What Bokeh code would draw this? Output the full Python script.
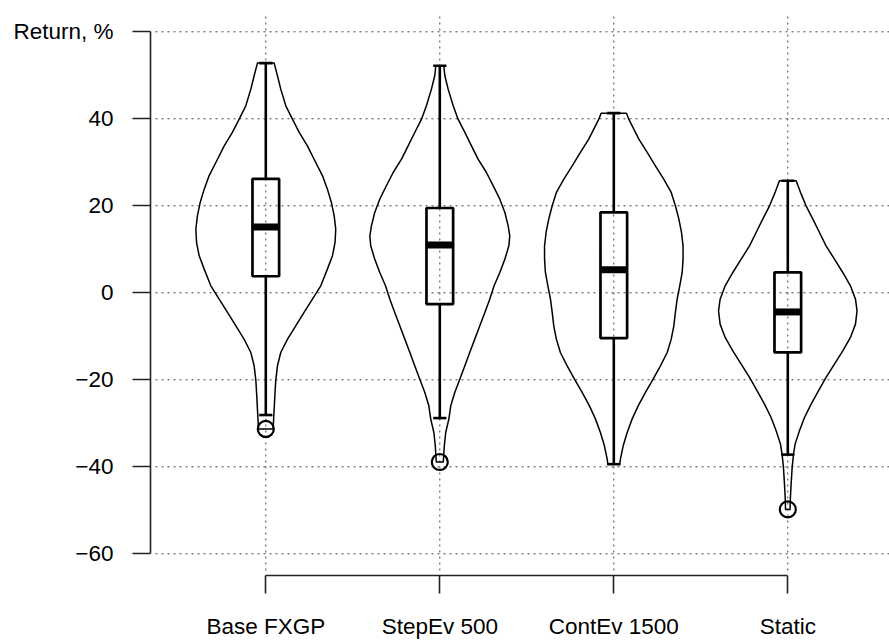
from bokeh.plotting import figure
from bokeh.models import Range1d, FixedTicker, ColumnDataSource
from bokeh.embed import file_html
from bokeh.resources import INLINE

# ---------------- data ----------------
categories = ["Base FXGP", "StepEv 500", "ContEv 1500", "Static"]
positions = [1, 2, 3, 4]

upper_whisker = [52.8, 52.2, 41.3, 25.75]
q3 = [26.2, 19.5, 18.5, 4.7]
median = [15.1, 11.0, 5.3, -4.4]
q1 = [3.8, -2.6, -10.4, -13.7]
lower_whisker = [-28.1, -28.8, -39.4, -37.2]

outlier_pos = [1, 2, 4]
outlier_val = [-31.3, -38.9, -49.8]

# violin profiles: return value (%) and half-width (in category units)
violin1_y = [52.8, 49.89, 46.82, 42.99, 39.92, 36.86, 33.79, 29.96, 26.90, 23.83,
             20.77, 17.70, 14.64, 11.57, 8.51, 5.44, 1.61, -1.46, -4.52, -7.59,
             -10.65, -13.72, -16.78, -20.23, -23.68, -26.74, -29.81, -31.3]
violin1_w = [0.048, 0.067, 0.086, 0.115, 0.153, 0.192, 0.239, 0.287, 0.326, 0.354,
             0.377, 0.393, 0.402, 0.398, 0.383, 0.354, 0.316, 0.268, 0.220, 0.172,
             0.125, 0.086, 0.067, 0.057, 0.052, 0.048, 0.044, 0.043]

violin2_y = [52.2, 49.89, 46.82, 42.99, 39.92, 36.86, 33.79, 30.73, 27.66, 24.60,
             21.53, 18.47, 15.40, 13.10, 10.80, 7.74, 4.67, 1.61, -1.46, -4.52,
             -7.59, -10.65, -13.72, -16.78, -19.85, -22.91, -25.98, -29.04, -32.11,
             -35.17, -38.9]
violin2_w = [0.023, 0.029, 0.048, 0.077, 0.105, 0.144, 0.182, 0.220, 0.268, 0.307,
             0.345, 0.374, 0.393, 0.402, 0.397, 0.374, 0.345, 0.312, 0.287, 0.259,
             0.230, 0.201, 0.172, 0.144, 0.115, 0.086, 0.063, 0.052, 0.034,
             0.026, 0.020]

violin3_y = [41.3, 39.92, 37.63, 35.33, 32.26, 29.20, 26.13, 23.07, 20.00, 16.94,
             13.87, 10.80, 7.74, 4.67, 1.61, -1.46, -4.52, -7.59, -10.65, -13.72,
             -16.78, -19.85, -22.91, -25.98, -29.04, -32.11, -35.17, -38.24, -39.4]
violin3_w = [0.073, 0.086, 0.115, 0.144, 0.192, 0.239, 0.287, 0.330, 0.354, 0.374,
             0.389, 0.398, 0.398, 0.393, 0.379, 0.364, 0.354, 0.345, 0.330, 0.307,
             0.268, 0.226, 0.182, 0.140, 0.105, 0.077, 0.054, 0.038, 0.034]

violin4_y = [25.75, 22.68, 20.00, 16.94, 13.87, 10.80, 7.74, 4.67, 1.61, -1.46,
             -4.14, -7.20, -10.27, -13.33, -16.40, -19.46, -22.53, -25.59, -28.66,
             -31.72, -34.79, -37.09, -40.15, -43.98, -47.05, -49.8]
violin4_w = [0.048, 0.077, 0.105, 0.144, 0.182, 0.220, 0.268, 0.316, 0.360, 0.389,
             0.398, 0.389, 0.360, 0.316, 0.268, 0.220, 0.176, 0.134, 0.096,
             0.067, 0.042, 0.033, 0.025, 0.019, 0.015, 0.013]

y_ticks = [-60, -40, -20, 0, 20, 40, 60]
y_tick_labels = ["\u221260", "\u221240", "\u221220", "0", "20", "40", "Return, %"]

# ---------------- styles ----------------
FONT = "Liberation Sans"
FONT_SIZE = "22.5px"
BOX_HALF = 0.0766
STAPLE_HALF = 0.038
PX_X = 174.0   # pixels per category unit
PX_Y = 4.35    # pixels per percent

x_start = 1 - 115.3 / PX_X
x_end = x_start + 739 / PX_X
y_end = 60 + 31.3 / PX_Y
y_start = y_end - 575 / PX_Y

p = figure(width=889, height=643, output_backend="svg", toolbar_location=None,
           x_range=Range1d(x_start, x_end), y_range=Range1d(y_start, y_end),
           min_border_left=150, min_border_right=0, min_border_top=0,
           min_border_bottom=68)
p.outline_line_color = None
p.xgrid.grid_line_color = None
p.ygrid.grid_line_color = None
p.background_fill_color = "white"
p.border_fill_color = "white"

# grid (dotted), inset like the reference's plot region
gx0 = x_start + 5 / PX_X
gy_top = y_end - 13 / PX_Y
gy_bot = y_start + 5 / PX_Y
p.segment(x0=[gx0] * len(y_ticks), x1=[x_end] * len(y_ticks), y0=y_ticks, y1=y_ticks,
          line_color="#444444", line_width=1, line_dash="2 4")
p.segment(x0=positions, x1=positions, y0=[gy_bot] * 4, y1=[gy_top] * 4,
          line_color="#444444", line_width=1, line_dash="2 4")

# violins
vys = [violin1_y, violin2_y, violin3_y, violin4_y]
vws = [violin1_w, violin2_w, violin3_w, violin4_w]
xs, ys = [], []
for pos, vy, vw in zip(positions, vys, vws):
    right = [pos + w for w in vw]
    left = [pos - w for w in reversed(vw)]
    xs.append(right + left)
    ys.append(list(vy) + list(reversed(vy)))
p.patches(xs=xs, ys=ys, fill_color=None, line_color="black", line_width=1.5,
          line_join="round")

# boxplots
src = ColumnDataSource(dict(pos=positions, q1=q1, q3=q3, med=median,
                            lo=lower_whisker, hi=upper_whisker))
p.segment(x0="pos", x1="pos", y0="q3", y1="hi", source=src, line_color="black", line_width=2.6)
p.segment(x0="pos", x1="pos", y0="q1", y1="lo", source=src, line_color="black", line_width=2.6)
p.segment(x0=[x - STAPLE_HALF for x in positions], x1=[x + STAPLE_HALF for x in positions],
          y0=upper_whisker, y1=upper_whisker, line_color="black", line_width=2.6)
p.segment(x0=[x - STAPLE_HALF for x in positions], x1=[x + STAPLE_HALF for x in positions],
          y0=lower_whisker, y1=lower_whisker, line_color="black", line_width=2.6)
p.quad(left=[x - BOX_HALF for x in positions], right=[x + BOX_HALF for x in positions],
       bottom=q1, top=q3, fill_color=None, line_color="black", line_width=2.7)
p.segment(x0=[x - BOX_HALF for x in positions], x1=[x + BOX_HALF for x in positions],
          y0=median, y1=median, line_color="black", line_width=7, line_cap="butt")
p.scatter(x=outlier_pos, y=outlier_val, marker="circle", size=16, fill_color=None,
          line_color="black", line_width=2.2)

# axes
for ax in (p.xaxis[0], p.yaxis[0]):
    ax.axis_line_color = "#222222"
    ax.axis_line_width = 1.6
    ax.major_tick_line_color = "#222222"
    ax.major_tick_line_width = 1.6
    ax.major_tick_out = 18
    ax.major_tick_in = 0
    ax.minor_tick_line_color = None
    ax.major_label_text_font = FONT
    ax.major_label_text_font_size = FONT_SIZE
    ax.major_label_text_color = "black"

p.yaxis.ticker = FixedTicker(ticks=y_ticks)
p.yaxis.bounds = (min(y_ticks), max(y_ticks))
p.yaxis.major_label_overrides = {t: l for t, l in zip(y_ticks, y_tick_labels)}
p.yaxis.major_label_standoff = 19

p.xaxis.ticker = FixedTicker(ticks=positions)
p.xaxis.bounds = (min(positions), max(positions))
p.xaxis.major_label_overrides = {t: l for t, l in zip(positions, categories)}
p.xaxis.major_label_standoff = 20

open("out.html", "w").write(file_html(p, INLINE))
